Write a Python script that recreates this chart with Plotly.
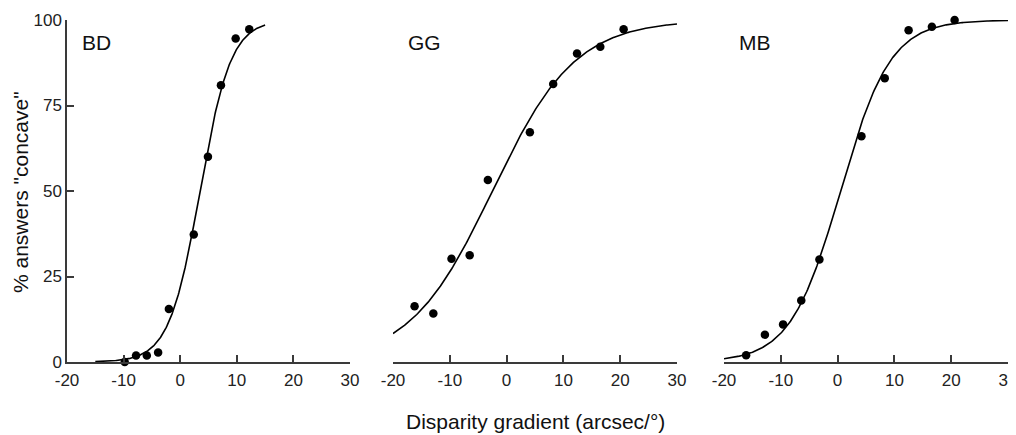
import numpy as np
import plotly.graph_objects as go

# ---- data ----
panel_names = ["BD", "GG", "MB"]

bd_x = [-9.8, -7.8, -5.9, -3.9, -2.0, 2.4, 4.9, 7.2, 9.8, 12.2]
bd_y = [0.0, 1.9, 1.9, 2.8, 15.5, 37.3, 60.0, 80.9, 94.6, 97.3]

gg_x = [-16.2, -12.9, -9.7, -6.5, -3.3, 4.1, 8.2, 12.4, 16.5, 20.6]
gg_y = [16.3, 14.2, 30.2, 31.2, 53.2, 67.2, 81.3, 90.2, 92.2, 97.3]

mb_x = [-16.1, -12.8, -9.6, -6.4, -3.2, 4.2, 8.3, 12.5, 16.6, 20.6]
mb_y = [2.0, 8.0, 11.0, 18.0, 30.0, 66.0, 83.0, 97.0, 98.0, 100.0]

# fitted psychometric (logistic) curve parameters per observer
curve_mid = [3.5, -2.5, 0.5]
curve_scale = [2.73, 7.3, 4.4]
curve_xmin = [-15, -20, -20]
curve_xmax = [15, 30, 30]

x_tick_vals = [-20, -10, 0, 10, 20, 30]
x_tick_text = ["-20", "-10", "0", "10", "20", "30"]
y_tick_vals = [0, 25, 50, 75, 100]
y_tick_text = ["0", "25", "50", "75", "100"]

x_title = "Disparity gradient (arcsec/°)"
y_title = '% answers "concave"'

# ---- figure ----
W, H = 1016, 435
OFF = 8  # page body margin: the figure is drawn 8px right/down
FONT = "Liberation Sans, Arial, sans-serif"
AX = "#3a3a3a"

xs = [bd_x, gg_x, mb_x]
ys = [bd_y, gg_y, mb_y]

# plot-area pixel boxes in window coordinates
x_dom_px = [(67, 350), (393, 677), (724, 1008)]
y_top_px, y_bot_px = 20, 362


def px_x(p):
    return (p - OFF) / W


def px_y(p):
    return (H - (p - OFF)) / H


fig = go.Figure()
for i in range(3):
    sfx = "" if i == 0 else str(i + 1)
    xa, ya = "x" + sfx, "y" + sfx
    cx = np.linspace(curve_xmin[i], curve_xmax[i], 300)
    cy = 100.0 / (1.0 + np.exp(-(cx - curve_mid[i]) / curve_scale[i]))
    fig.add_trace(go.Scatter(x=cx, y=cy, mode="lines",
                             line=dict(color="black", width=1.6),
                             xaxis=xa, yaxis=ya, showlegend=False,
                             hoverinfo="skip", cliponaxis=False))
    fig.add_trace(go.Scatter(x=xs[i], y=ys[i], mode="markers",
                             marker=dict(color="black", size=8.5),
                             xaxis=xa, yaxis=ya, showlegend=False,
                             cliponaxis=False))
    x0, x1 = x_dom_px[i]
    fig.layout["xaxis" + sfx] = dict(
        domain=[px_x(x0), px_x(x1)], anchor=ya, range=[-20, 30],
        tickvals=x_tick_vals, ticktext=x_tick_text,
        ticks="inside", ticklen=7, tickwidth=1.5, tickcolor=AX,
        showline=True, linecolor=AX, linewidth=1.5,
        showgrid=False, zeroline=False,
        ticklabeloverflow="allow", ticklabelstandoff=2,
        tickfont=dict(family=FONT, size=17, color="#222"),
        fixedrange=True,
    )
    fig.layout["yaxis" + sfx] = dict(
        domain=[px_y(y_bot_px), px_y(y_top_px)], anchor=xa,
        range=[0, 100],
        tickvals=y_tick_vals, ticktext=y_tick_text,
        ticks="inside" if i == 0 else "", ticklen=7, tickwidth=1.5,
        tickcolor=AX,
        showline=(i == 0), linecolor=AX, linewidth=1.5,
        showticklabels=(i == 0),
        showgrid=False, zeroline=False,
        ticklabeloverflow="allow",
        tickfont=dict(family=FONT, size=17, color="#222"),
        fixedrange=True,
    )
    fig.add_annotation(text=panel_names[i], xref=xa + " domain",
                       yref=ya + " domain", x=0.045, y=0.935,
                       xanchor="left", yanchor="middle", showarrow=False,
                       font=dict(family=FONT, size=21, color="#111"))

fig.add_annotation(text=x_title, xref="paper", yref="paper",
                   x=px_x(535), y=px_y(421), xanchor="center",
                   yanchor="middle", showarrow=False,
                   font=dict(family=FONT, size=21, color="#111"))
fig.add_annotation(text=y_title, xref="paper", yref="paper",
                   x=px_x(20), y=px_y(192), xanchor="center",
                   yanchor="middle", showarrow=False, textangle=-90,
                   font=dict(family=FONT, size=21, color="#111"))

fig.update_layout(width=W, height=H, margin=dict(l=0, r=0, t=0, b=0),
                  paper_bgcolor="white", plot_bgcolor="white",
                  template="none", showlegend=False)

fig.write_html("out.html")
